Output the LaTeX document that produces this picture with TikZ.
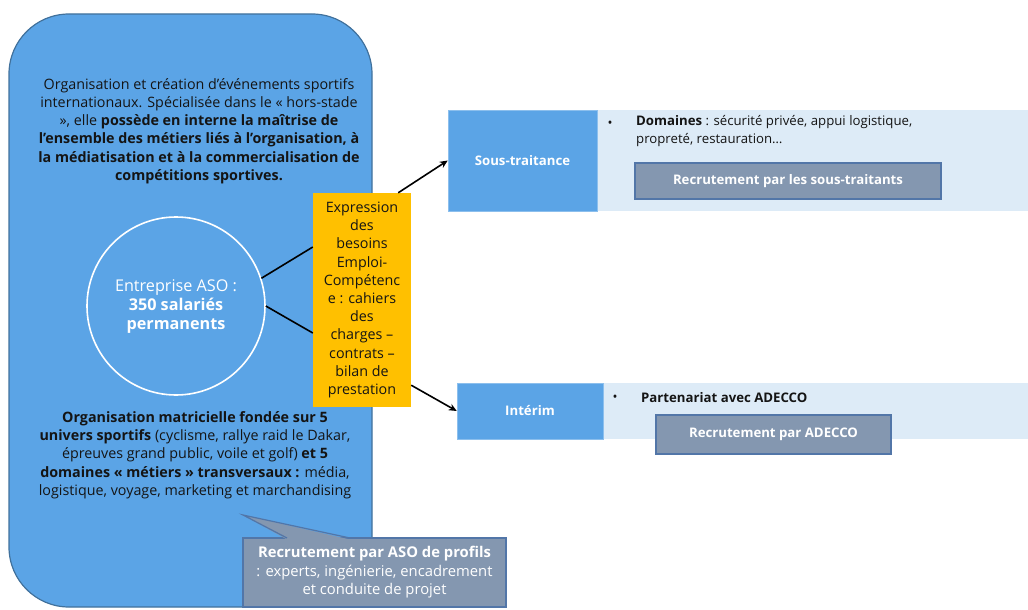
\documentclass[tikz,border=0pt]{standalone}
\usepackage{fontspec}
\setmainfont{Open Sans}
\usetikzlibrary{arrows.meta,calc}
\definecolor{bigblue}{RGB}{91,164,230}
\definecolor{bigedge}{RGB}{65,113,156}
\definecolor{lightbl}{RGB}{221,235,247}
\definecolor{grayblue}{RGB}{132,151,176}
\definecolor{grayedge}{RGB}{82,118,168}
\definecolor{gold}{RGB}{255,192,0}
\definecolor{ink}{RGB}{20,20,20}
\tikzset{
  txt/.style={text=ink,align=center,inner sep=0pt,font=\fontsize{14.3}{18.3}\selectfont},
  rtxt/.style={text=ink,inner sep=0pt,font=\fontsize{13.2}{18}\selectfont},
  bluebox/.style={fill=bigblue,draw=bigblue!70!white,line width=0.5pt,text=white,font=\fontsize{13.2}{15}\selectfont\bfseries},
  lightbox/.style={fill=lightbl,draw=none},
  recbox/.style={fill=grayblue,draw=grayedge,line width=1.2pt,text=white,font=\fontsize{13.2}{15}\selectfont\bfseries},
  conn/.style={line width=1.6pt,draw=black},
  arr/.style={line width=1.6pt,draw=black,-{Stealth[length=8pt,width=7pt]}},
}
\begin{document}
\begin{tikzpicture}[x=1pt,y=-1pt]
\useasboundingbox (0,0) rectangle (1028,610);
% big rounded box
\node[fill=bigblue,draw=bigedge,line width=1.2pt,rounded corners=60pt,minimum width=363pt,minimum height=593pt,inner sep=0pt] (asobox) at (190.5,310.5) {};
\node[txt] (toptext) at (199,131) {Organisation et création d’événements sportifs\\internationaux. Spécialisée dans le « hors-stade\\», elle \textbf{possède en interne la maîtrise de}\\\textbf{l’ensemble des métiers liés à l'organisation, à}\\\textbf{la médiatisation et à la commercialisation de}\\\textbf{compétitions sportives.}};
\node[txt] (bottext) at (195,455) {\textbf{Organisation matricielle fondée sur 5}\\\textbf{univers sportifs} (cyclisme, rallye raid le Dakar,\\épreuves grand public, voile et golf) \textbf{et 5}\\\textbf{domaines « métiers » transversaux :} média,\\logistique, voyage, marketing et marchandising};
% circle
\node[circle,draw=white,line width=1.6pt,minimum size=178pt,inner sep=0pt,text=white,align=center,font=\fontsize{16.2}{19}\selectfont] (aso) at (176,306) {Entreprise ASO :\\\textbf{350 salariés}\\\textbf{permanents}};
% yellow box
\node[fill=gold,minimum width=98pt,minimum height=214pt,inner sep=0pt,text=ink,align=center,font=\fontsize{14.3}{18.2}\selectfont] (besoins) at (362,300) {Expression\\des\\besoins\\Emploi-\\Compétenc\\e : cahiers\\des\\charges –\\contrats –\\bilan de\\prestation};
% right side
\node[lightbox,minimum width=431pt,minimum height=101pt,inner sep=0pt] (stlight) at (812.5,160.5) {};
\node[bluebox,minimum width=149pt,minimum height=101pt,inner sep=0pt] (st) at (522.5,160.5) {Sous-traitance};
\node[rtxt] (bul1) at (610,124) {•};
\node[rtxt,anchor=north west,align=left] (dom) at (636,115) {\textbf{Domaines} : sécurité privée, appui logistique,\\propreté, restauration…};
\node[recbox,minimum width=306pt,minimum height=36pt,inner sep=0pt] (rst) at (788,181) {Recrutement par les sous-traitants};
\node[lightbox,minimum width=425pt,minimum height=56pt,inner sep=0pt] (intlight) at (815.5,411) {};
\node[bluebox,minimum width=146pt,minimum height=56pt,inner sep=0pt] (interim) at (530,411) {Intérim};
\node[rtxt] (bul2) at (615,398) {•};
\node[rtxt,anchor=west,font=\fontsize{13.2}{15}\selectfont\bfseries] (part) at (641,398) {Partenariat avec ADECCO};
\node[recbox,minimum width=235pt,minimum height=39pt,inner sep=0pt] (radecco) at (773.5,434.5) {Recrutement par ADECCO};
% callout
\coordinate (tip) at (243,515);
\node[recbox,minimum width=263pt,minimum height=69pt,inner sep=0pt,align=center,font=\fontsize{14.8}{18.5}\selectfont] (aso2) at (374.5,572.5) {\textbf{Recrutement par ASO de profils}\\\mdseries: experts, ingénierie, encadrement\\\mdseries et conduite de projet};
\fill[grayblue] (tip) -- (287,539.5) -- (350,539.5) -- cycle;
\draw[grayedge,line width=1.2pt,line join=miter] (287,538) -- (tip) -- (350,538);
% connectors
\draw[conn] (aso.18) -- ([yshift=53pt]besoins.west);
\draw[conn] (aso.0) -- ([yshift=-33pt]besoins.west);
\draw[arr] ([xshift=-13pt]besoins.north east) -- (st.west);
\draw[arr] ([yshift=22pt]besoins.south east) -- (interim.west);
\end{tikzpicture}
\end{document}
